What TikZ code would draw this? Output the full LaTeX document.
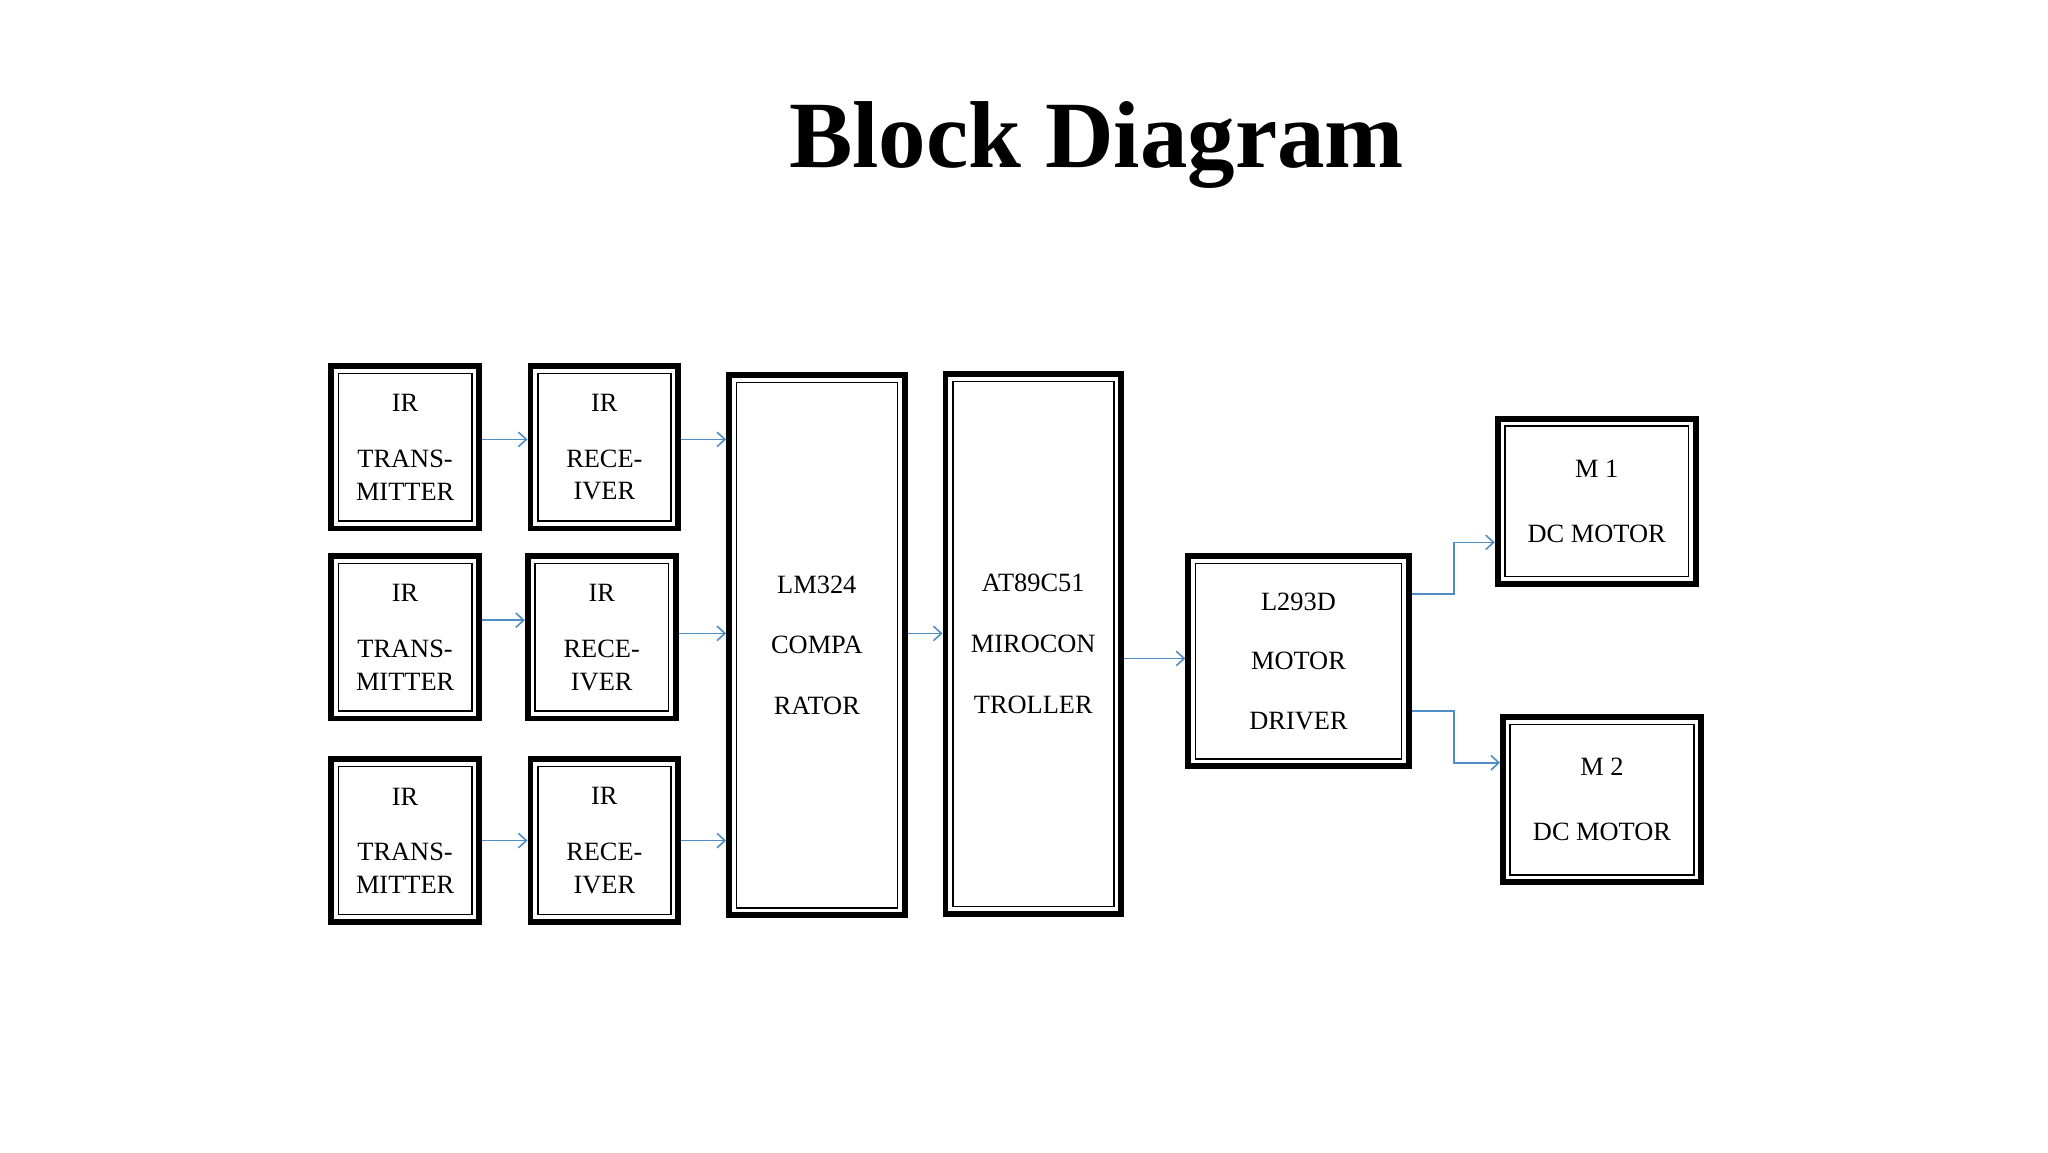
\documentclass[tikz,border=0pt]{standalone}
\usepackage{fontspec}
\setmainfont{Liberation Serif}
\usetikzlibrary{arrows.meta}
\definecolor{arrowblue}{RGB}{80,140,200}
\tikzset{
  blk/.style={draw, line width=4.5pt, inner sep=0pt, align=center,
    font=\fontsize{20}{25}\selectfont,
    path picture={\draw[line width=1.2pt]
      ([shift={(5.5pt,-5.5pt)}]path picture bounding box.north west) rectangle
      ([shift={(-5.5pt,5.5pt)}]path picture bounding box.south east);}},
  small/.style={blk, minimum width=112pt, minimum height=123pt},
  tall/.style={blk, minimum width=133pt, minimum height=409pt},
  link/.style={draw=arrowblue, line width=1.2pt, -{Straight Barb[length=6pt,width=11pt]}}
}
\begin{document}
\begin{tikzpicture}[x=1pt, y=-1pt]
    \useasboundingbox (0,0) rectangle (1552,873);

    % Titel
    \node[font=\bfseries\fontsize{72}{80}\selectfont] (title) at (831,110) {Block Diagram};

    % Sender und Empfaenger
    \node[small] (tx1) at (307,339) {IR\\[17pt]TRANS-\\MITTER};
    \node[small] (rx1) at (458,339) {IR\\[17pt]RECE-\\IVER};
    \node[small] (tx2) at (307,483) {IR\\[17pt]TRANS-\\MITTER};
    \node[small] (rx2) at (456,483) {IR\\[17pt]RECE-\\IVER};
    \node[small] (tx3) at (307,637) {IR\\[17pt]TRANS-\\MITTER};
    \node[small] (rx3) at (458,637) {IR\\[17pt]RECE-\\IVER};

    % Komparator und Controller
    \node[tall] (comp) at (619,489) {LM324\\[21pt]COMPA\\[21pt]RATOR};
    \node[tall] (mcu) at (783,488) {AT89C51\\[21pt]MIROCON\\[21pt]TROLLER};

    % Motortreiber
    \node[blk, minimum width=167pt, minimum height=159pt] (drv) at (984,501) {L293D\\[20pt]MOTOR\\[20pt]DRIVER};

    % Motoren
    \node[blk, minimum width=150pt, minimum height=125pt] (m1) at (1210,380) {M 1\\[24pt]DC MOTOR};
    \node[blk, minimum width=150pt, minimum height=125pt] (m2) at (1214,606) {M 2\\[24pt]DC MOTOR};

    % Verbindungen
    \draw[link] (tx1.east |- 0,333) -- (rx1.west |- 0,333);
    \draw[link] (tx2.east |- 0,470) -- (rx2.west |- 0,470);
    \draw[link] (tx3.east |- 0,637) -- (rx3.west |- 0,637);
    \draw[link] (rx1.east |- 0,333) -- (comp.west |- 0,333);
    \draw[link] (rx2.east |- 0,480) -- (comp.west |- 0,480);
    \draw[link] (rx3.east |- 0,637) -- (comp.west |- 0,637);
    \draw[link] (comp.east |- 0,480) -- (mcu.west |- 0,480);
    \draw[link] (mcu.east |- 0,499) -- (drv.west |- 0,499);
    \draw[link] (drv.east |- 0,450) -- (1102,450) |- (m1.west |- 0,411);
    \draw[link] (drv.east |- 0,539) -- (1102,539) |- (m2.west |- 0,578);

\end{tikzpicture}
\end{document}
